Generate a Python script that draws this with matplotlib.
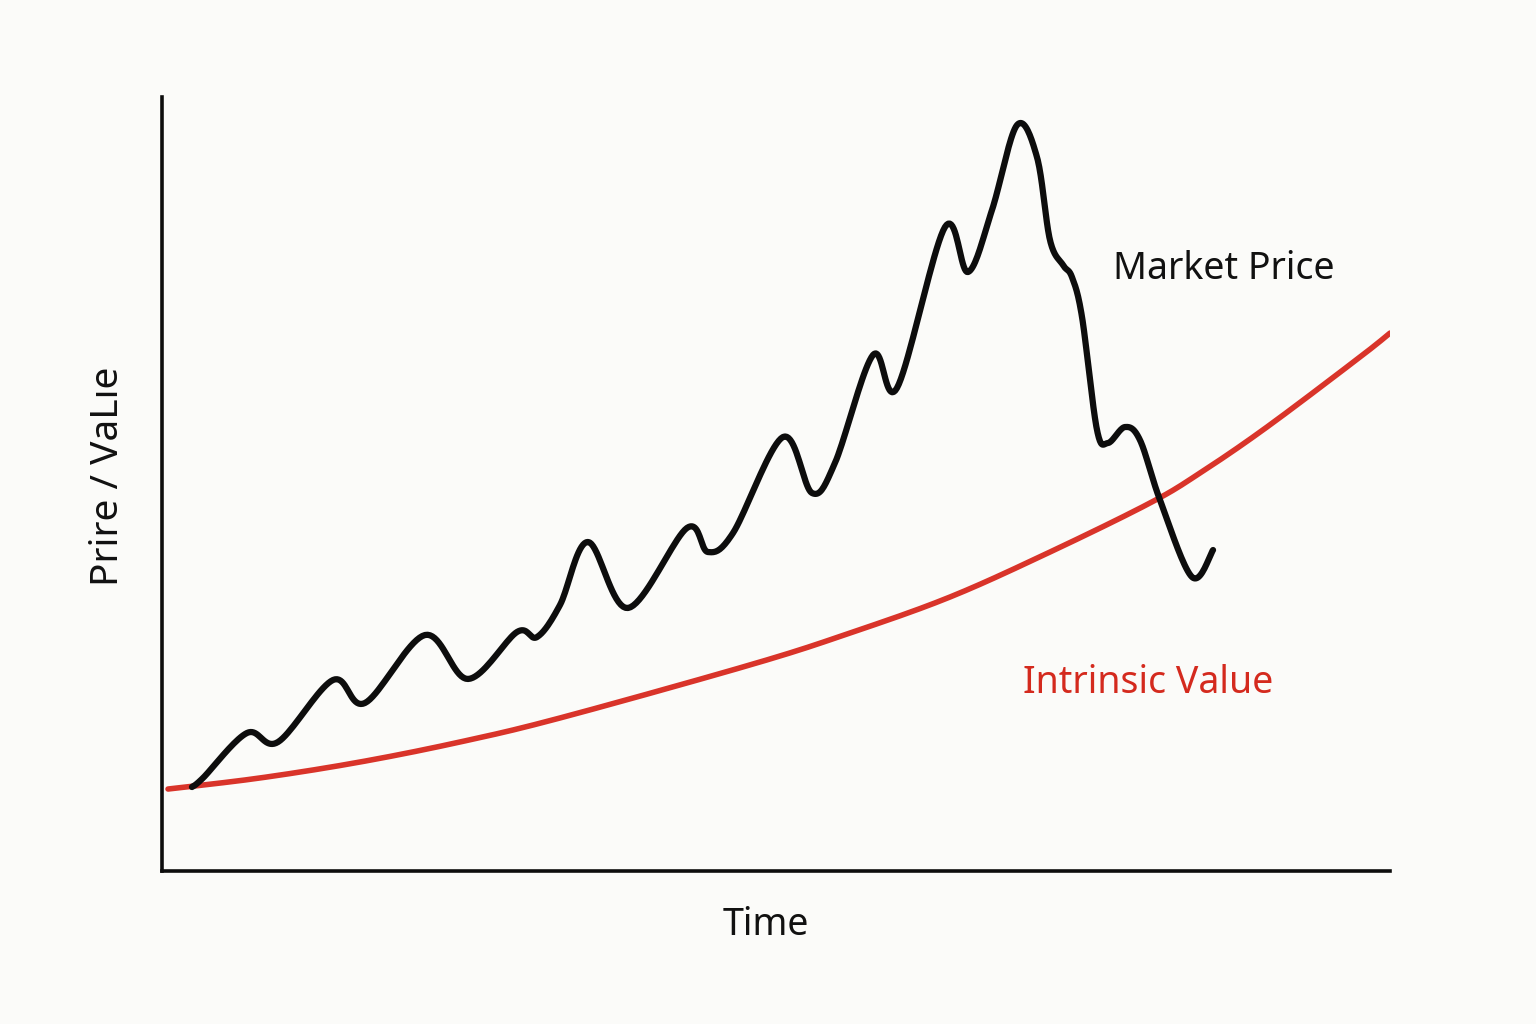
import matplotlib
matplotlib.use("Agg")
import matplotlib.pyplot as plt
import numpy as np

# market price (time 0-100, value 0-100)
priceTime = [2.44, 3.34, 6.92, 9.45, 13.93, 16.53, 21.42, 24.92, 28.91, 30.54,
             32.41, 34.69, 37.95, 42.75, 44.46, 46.50, 50.57, 52.93, 54.80, 57.90,
             59.85, 63.76, 65.64, 67.59, 69.63, 71.25, 72.31, 73.37, 74.10, 74.92,
             76.14, 77.04, 78.42, 79.64, 81.27, 83.88, 85.59]
priceVal = [10.85, 12.02, 17.83, 16.67, 24.68, 21.71, 30.49, 24.81, 30.88, 30.23,
            34.37, 42.51, 33.98, 44.32, 41.21, 43.67, 56.07, 48.84, 52.71, 66.67,
            62.40, 83.20, 77.39, 85.40, 96.38, 92.25, 81.52, 78.29, 76.74, 71.58,
            56.98, 55.30, 57.36, 55.68, 47.93, 37.98, 41.47]

# intrinsic value
valueTime = [0.49, 7.98, 16.12, 24.27, 32.41, 48.13, 56.03, 64.17, 72.31,
             80.46, 84.53, 89.98, 97.56, 100.0]
valueVal = [10.59, 12.02, 14.08, 16.67, 19.77, 26.74, 30.75, 35.40, 41.21,
            47.55, 51.42, 57.36, 66.41, 69.50]

def smooth(xs, ys, n=20):
    # catmull-rom through the read points, only for drawing
    p = np.column_stack([xs, ys])
    p = np.vstack([p[0], p, p[-1]])
    out = []
    t = np.linspace(0, 1, n, endpoint=False)[:, None]
    for i in range(1, len(p) - 2):
        p0, p1, p2, p3 = p[i-1], p[i], p[i+1], p[i+2]
        seg = 0.5 * ((2*p1) + (-p0 + p2)*t + (2*p0 - 5*p1 + 4*p2 - p3)*t**2
                     + (-p0 + 3*p1 - 3*p2 + p3)*t**3)
        out.append(seg)
    out.append(p[-2][None, :])
    out = np.vstack(out)
    return out[:, 0], out[:, 1]

bg = "#fbfbf9"
font = ["Noto Sans", "DejaVu Sans"]

fig = plt.figure(figsize=(15.36, 10.24), dpi=100, facecolor=bg)
ax = fig.add_axes([162/1536, 153/1024, 1228/1536, 774/1024])
ax.set_facecolor(bg)
ax.set_xlim(0, 100)
ax.set_ylim(0, 100)

vx, vy = smooth(valueTime, valueVal)
ax.plot(vx, vy, color="#d9342a", lw=4.0, solid_capstyle="round", zorder=2)
px, py = smooth(priceTime, priceVal)
ax.plot(px, py, color="#0d0d0d", lw=4.5, solid_capstyle="round",
        solid_joinstyle="round", zorder=3)

for s in ["top", "right"]:
    ax.spines[s].set_visible(False)
for s in ["left", "bottom"]:
    ax.spines[s].set_linewidth(2.6)
    ax.spines[s].set_color("#0d0d0d")
ax.set_xticks([])
ax.set_yticks([])

ax.text(77.44, 76.5, "Market Price", fontsize=27, family=font, color="#111111",
        ha="left", va="baseline")
ax.text(70.1, 23.0, "Intrinsic Value", fontsize=27, family=font, color="#d42a1e",
        ha="left", va="baseline")
ax.text(49.2, -8.27, "Time", fontsize=27, family=font, color="#111111",
        ha="center", va="baseline", clip_on=False)
ax.text(-4.4, 51.0, "Prire / VaLıe", fontsize=28, family=font, color="#111111",
        ha="center", va="center", rotation=90, clip_on=False)

fig.savefig("out.png", dpi=100, facecolor=bg)
